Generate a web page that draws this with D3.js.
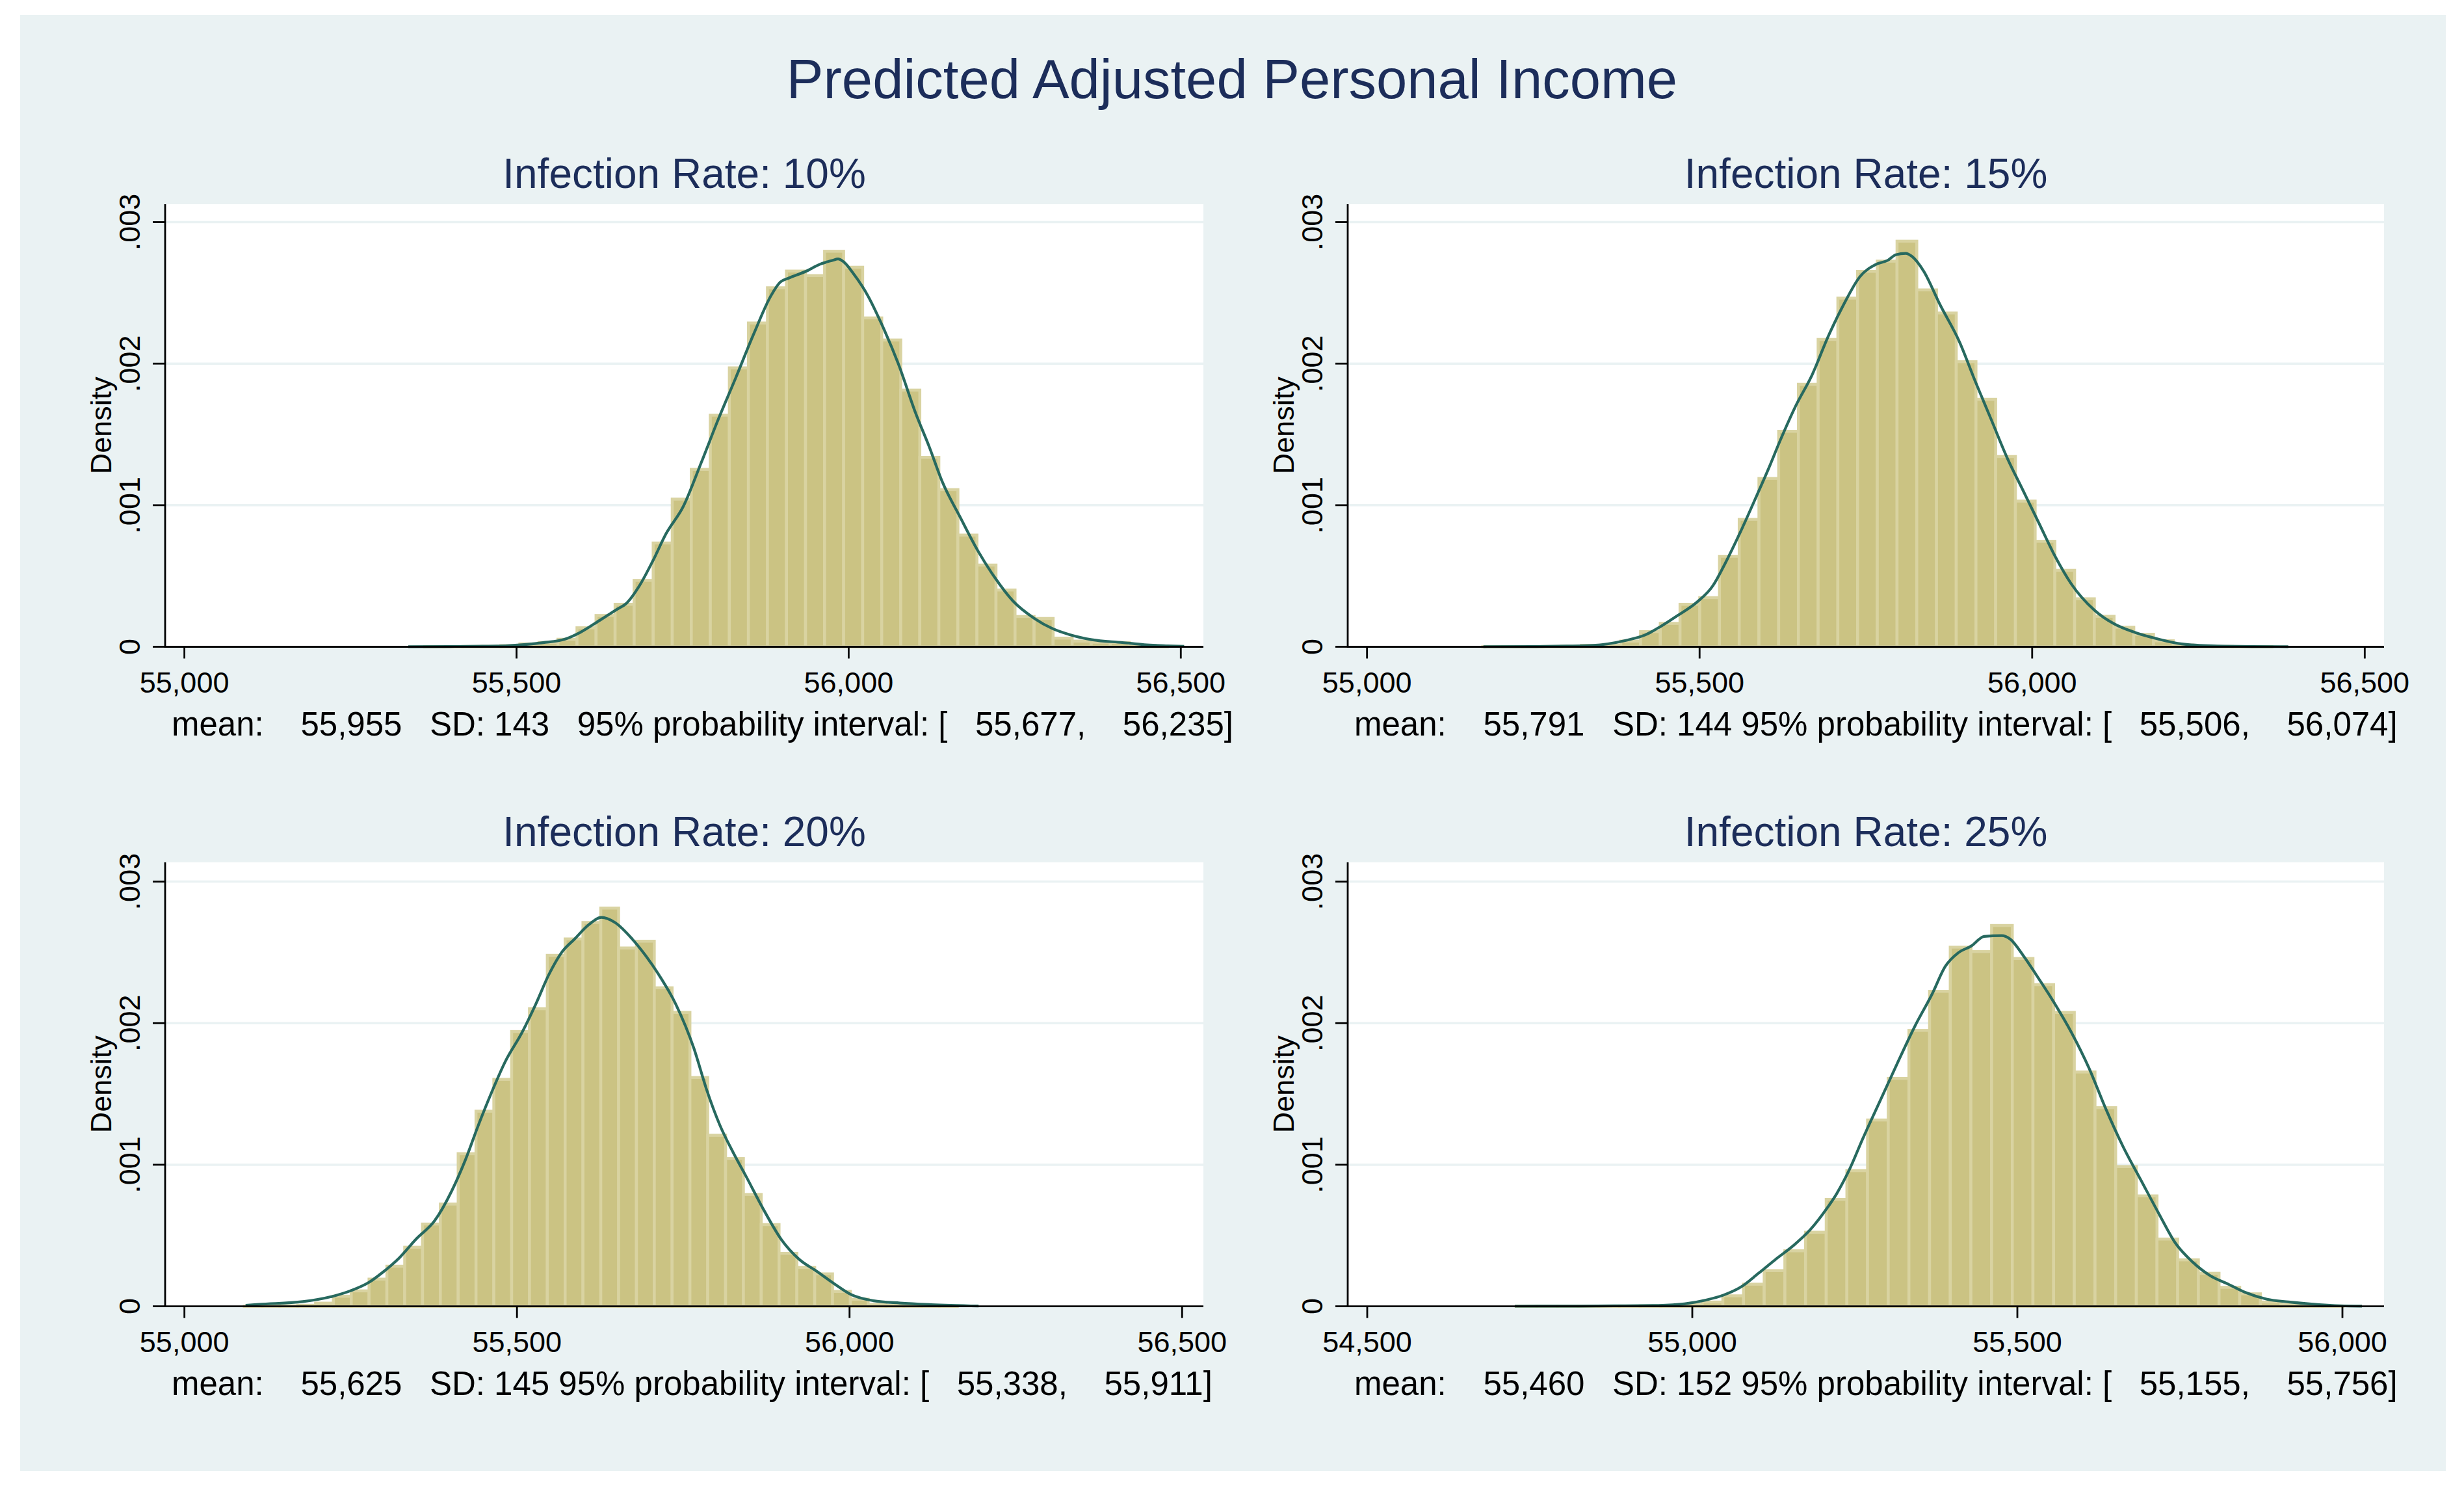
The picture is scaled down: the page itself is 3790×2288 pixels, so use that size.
<!DOCTYPE html>
<html>
<head>
<meta charset="utf-8">
<script src="https://cdn.jsdelivr.net/npm/d3@7"></script>
<style>
  html, body { margin: 0; padding: 0; background: #fff; }
  text { font-family: "Liberation Sans", Arial, Helvetica, sans-serif; }
</style>
</head>
<body>
<svg id="chart"></svg>
<script>
const size = {w: 3790, h: 2288};

//DATA
const mainTitle = 'Predicted Adjusted Personal Income';
const panelTitles = ['Infection Rate: 10%', 'Infection Rate: 15%', 'Infection Rate: 20%', 'Infection Rate: 25%'];
const notes = [
    'mean:    55,955   SD: 143   95% probability interval: [   55,677,    56,235]',
    'mean:    55,791   SD: 144 95% probability interval: [   55,506,    56,074]',
    'mean:    55,625   SD: 145 95% probability interval: [   55,338,    55,911]',
    'mean:    55,460   SD: 152 95% probability interval: [   55,155,    55,756]'
];
const yTicks = [0, 0.001, 0.002, 0.003];
const yTickLabels = ['0', '.001', '.002', '.003'];
const xTicks = [
    [55000, 55500, 56000, 56500],
    [55000, 55500, 56000, 56500],
    [55000, 55500, 56000, 56500],
    [54500, 55000, 55500, 56000]
];
// x range shown by each plot region
const xExtent = [[54971, 56534], [54971, 56529], [54971, 56532], [54470, 56064]];

// histogram bins: first edge and width, 40 bins each
const binStart = [55333, 55174, 55090, 54729];
const binWidth = [28.67, 29.66, 26.8, 31.8];

const dens10 = [0.0000000, 0.0000005, 0.000001, 0.000002, 0.000003, 0.000008, 0.000020, 0.000030,
    0.000053, 0.000134, 0.000221, 0.000300, 0.000469, 0.000733, 0.001043, 0.001253,
    0.001636, 0.001970, 0.002287, 0.002536, 0.002654, 0.002622, 0.002794, 0.002681,
    0.002323, 0.002167, 0.001813, 0.001338, 0.001110, 0.000789, 0.000577, 0.000401,
    0.000214, 0.000200, 0.000061, 0.000040, 0.000032, 0.000030, 0.000004, 0.000002];
const dens15 = [0.0000002, 0.0000005, 0.000001, 0.000002, 0.000004, 0.000010, 0.000012, 0.000040,
    0.000107, 0.000165, 0.000300, 0.000347, 0.000639, 0.000900, 0.001189, 0.001522,
    0.001854, 0.002171, 0.002463, 0.002652, 0.002724, 0.002865, 0.002521, 0.002358,
    0.002014, 0.001748, 0.001344, 0.001029, 0.000745, 0.000540, 0.000339, 0.000215,
    0.000138, 0.000088, 0.000042, 0.000012, 0.000005, 0.000002, 0.000001, 0.0000005];
const dens20 = [0.0000005, 0.000001, 0.000003, 0.000007, 0.000022, 0.000071, 0.000109, 0.000192,
    0.000283, 0.000417, 0.000581, 0.000722, 0.001078, 0.001378, 0.001603, 0.001941,
    0.002102, 0.002479, 0.002595, 0.002711, 0.002813, 0.002531, 0.002579, 0.002250,
    0.002076, 0.001616, 0.001208, 0.001044, 0.000790, 0.000577, 0.000374, 0.000274,
    0.000229, 0.000105, 0.000050, 0.000012, 0.000006, 0.000003, 0.000001, 0.0000005];
const dens25 = [0.0000002, 0.0000003, 0.0000005, 0.000001, 0.000001, 0.000002, 0.000003, 0.000005,
    0.000012, 0.000030, 0.000074, 0.000156, 0.000252, 0.000392, 0.000523, 0.000755,
    0.000958, 0.001316, 0.001610, 0.001949, 0.002225, 0.002537, 0.002506, 0.002690,
    0.002457, 0.002272, 0.002076, 0.001655, 0.001403, 0.000987, 0.000780, 0.000475,
    0.000328, 0.000233, 0.000134, 0.000088, 0.000030, 0.000012, 0.000004, 0.000002];

// kernel density line
const kdX10 = [55337, 55400, 55450, 55487, 55540, 55573, 55596, 55626, 55652, 55665, 55685, 55705,
    55725, 55751, 55778, 55804, 55830, 55857, 55883, 55897, 55910, 55936, 55956, 55976, 55984,
    55992, 56009, 56029, 56049, 56075, 56101, 56121, 56141, 56168, 56194, 56220, 56247, 56280,
    56306, 56333, 56366, 56412, 56445, 56480, 56505];
const kdY10 = [0.000001, 0.000002, 0.000004, 0.000008, 0.000029, 0.000054, 0.000102, 0.000189,
    0.000267, 0.000305, 0.000431, 0.000605, 0.000798, 0.000991, 0.001300, 0.001610, 0.001900,
    0.002209, 0.002480, 0.002576, 0.002605, 0.002653, 0.002701, 0.002730, 0.002740, 0.002721,
    0.002624, 0.002479, 0.002286, 0.001996, 0.001648, 0.001416, 0.001165, 0.000914, 0.000682,
    0.000489, 0.000325, 0.000199, 0.000130, 0.000085, 0.000050, 0.000030, 0.000015, 0.000007,
    0.000003];
const kdX15 = [55175, 55250, 55300, 55340, 55388, 55418, 55442, 55466, 55496, 55520, 55538, 55562,
    55586, 55604, 55621, 55645, 55669, 55693, 55717, 55741, 55765, 55783, 55795, 55810, 55819,
    55837, 55861, 55891, 55914, 55938, 55962, 55986, 56010, 56034, 56058, 56094, 56124, 56154,
    56190, 56225, 56273, 56330, 56385];
const kdY15 = [0.000001, 0.000002, 0.000005, 0.000010, 0.000044, 0.000083, 0.000145, 0.000218,
    0.000315, 0.000431, 0.000585, 0.000817, 0.001069, 0.001262, 0.001455, 0.001706, 0.001919,
    0.002189, 0.002421, 0.002614, 0.002701, 0.002730, 0.002769, 0.002779, 0.002759, 0.002653,
    0.002421, 0.002151, 0.001880, 0.001610, 0.001339, 0.001107, 0.000875, 0.000643, 0.000450,
    0.000257, 0.000160, 0.000102, 0.000054, 0.000020, 0.000006, 0.000002, 0.000001];
const kdX20 = [55092, 55112, 55178, 55224, 55250, 55277, 55297, 55323, 55349, 55376, 55402, 55422,
    55442, 55462, 55482, 55508, 55528, 55548, 55567, 55587, 55607, 55627, 55647, 55673, 55693,
    55713, 55739, 55766, 55785, 55805, 55825, 55845, 55871, 55898, 55924, 55951, 55977, 56003,
    56036, 56076, 56122, 56194];
const kdY20 = [0.000007, 0.000014, 0.000033, 0.000072, 0.000110, 0.000168, 0.000236, 0.000342,
    0.000478, 0.000603, 0.000816, 0.001029, 0.001280, 0.001513, 0.001725, 0.001938, 0.002132,
    0.002344, 0.002499, 0.002596, 0.002692, 0.002747, 0.002712, 0.002596, 0.002480, 0.002344,
    0.002132, 0.001822, 0.001532, 0.001280, 0.001087, 0.000913, 0.000681, 0.000468, 0.000333,
    0.000246, 0.000159, 0.000081, 0.000039, 0.000023, 0.000012, 0.000002];
const kdX25 = [54727, 54800, 54880, 54948, 54988, 55021, 55048, 55075, 55102, 55128, 55155, 55182,
    55202, 55222, 55242, 55262, 55289, 55316, 55342, 55369, 55389, 55409, 55429, 55449, 55476,
    55489, 55509, 55529, 55556, 55583, 55610, 55636, 55663, 55690, 55717, 55743, 55770, 55797,
    55824, 55850, 55884, 55917, 55964, 55996, 56030];
const kdY25 = [0.0000005, 0.000001, 0.000003, 0.000006, 0.000017, 0.000044, 0.000079, 0.000137,
    0.000234, 0.000331, 0.000427, 0.000544, 0.000660, 0.000795, 0.000969, 0.001182, 0.001453,
    0.001723, 0.001975, 0.002207, 0.002400, 0.002497, 0.002545, 0.002613, 0.002619, 0.002594,
    0.002478, 0.002342, 0.002149, 0.001936, 0.001685, 0.001395, 0.001124, 0.000892, 0.000660,
    0.000447, 0.000311, 0.000215, 0.000157, 0.000099, 0.000050, 0.000031, 0.000012, 0.000004,
    0.000001];

const densities = [dens10, dens15, dens20, dens25];
const kdXs = [kdX10, kdX15, kdX20, kdX25];
const kdYs = [kdY10, kdY15, kdY20, kdY25];

//LAYOUT
const colLeft = [254, 2073], colRight = [1851, 3667];
const rowTop = [314, 1326], rowBottom = [994.5, 2008.6];
const tickSpan = 653; // pixels from 0 to .003

const colors = {
    bg: '#eaf2f3',
    title: '#1c2d5a',
    fill: '#cbc383',
    edge: '#d9d3a1',
    line: '#27695f',
    grid: '#eaf2f3'
};

const svg = d3.select('svg#chart')
    .attr('width', size.w)
    .attr('height', size.h)
    .attr('viewBox', `0 0 ${size.w} ${size.h}`);

svg.append('rect')
    .attr('width', size.w).attr('height', size.h)
    .attr('fill', '#fff');

svg.append('rect')
    .attr('x', 31).attr('y', 23)
    .attr('width', 3731).attr('height', 2239)
    .attr('fill', colors.bg);

svg.append('text')
    .attr('x', size.w / 2)
    .attr('y', 151)
    .attr('text-anchor', 'middle')
    .attr('fill', colors.title)
    .style('font-size', '85px')
    .text(mainTitle);

panelTitles.forEach((t, i) => drawPanel(i));

//--------FUNCTIONS--------
function drawPanel(p) {
    const col = p % 2, row = Math.floor(p / 2);
    const l = colLeft[col], r = colRight[col];
    const t = rowTop[row], b = rowBottom[row];

    const x = d3.scaleLinear().domain(xExtent[p]).range([l, r]);
    const y = d3.scaleLinear().domain([0, 0.003]).range([b, b - tickSpan]);

    const g = svg.append('g').classed('panel', true);

    // plot region
    g.append('rect')
        .attr('x', l).attr('y', t)
        .attr('width', r - l).attr('height', b - t)
        .attr('fill', '#fff');

    // gridlines
    g.append('g')
        .selectAll('line')
        .data(yTicks.filter(d => d > 0))
        .join('line')
        .attr('x1', l).attr('x2', r)
        .attr('y1', d => y(d)).attr('y2', d => y(d))
        .attr('stroke', colors.grid)
        .attr('stroke-width', 3.5);

    // histogram bars
    const bins = densities[p].map((d, i) => ({
        x0: binStart[p] + i * binWidth[p],
        x1: binStart[p] + (i + 1) * binWidth[p],
        d: d
    }));
    g.append('g')
        .selectAll('rect')
        .data(bins)
        .join('rect')
        .attr('x', d => x(d.x0))
        .attr('y', d => y(d.d))
        .attr('width', d => x(d.x1) - x(d.x0))
        .attr('height', d => y(0) - y(d.d))
        .attr('fill', colors.fill)
        .attr('stroke', colors.edge)
        .attr('stroke-width', 4.5);

    // kernel density
    const pts = kdXs[p].map((v, i) => [v, kdYs[p][i]]);
    const line = d3.line()
        .x(d => x(d[0]))
        .y(d => y(d[1]))
        .curve(d3.curveMonotoneX);
    g.append('path')
        .attr('d', line(pts))
        .attr('fill', 'none')
        .attr('stroke', colors.line)
        .attr('stroke-width', 4.2)
        .attr('stroke-linejoin', 'round');

    // axes
    const axisG = g.append('g')
        .attr('stroke', '#000')
        .attr('stroke-width', 2.8);
    axisG.append('line')
        .attr('x1', l).attr('x2', l).attr('y1', t).attr('y2', b);
    axisG.append('line')
        .attr('x1', l - 1.4).attr('x2', r).attr('y1', b).attr('y2', b);
    axisG.selectAll('line.yt')
        .data(yTicks)
        .join('line')
        .classed('yt', true)
        .attr('x1', l - 19).attr('x2', l)
        .attr('y1', d => y(d)).attr('y2', d => y(d));
    axisG.selectAll('line.xt')
        .data(xTicks[p])
        .join('line')
        .classed('xt', true)
        .attr('x1', d => x(d)).attr('x2', d => x(d))
        .attr('y1', b).attr('y2', b + 18);

    // tick labels
    g.append('g')
        .selectAll('text')
        .data(xTicks[p])
        .join('text')
        .attr('x', d => x(d))
        .attr('y', b + 70)
        .attr('text-anchor', 'middle')
        .style('font-size', '45px')
        .text(d => d3.format(',')(d));

    g.append('g')
        .selectAll('text')
        .data(yTicks)
        .join('text')
        .attr('transform', d => `translate(${l - 39}, ${y(d)}) rotate(-90)`)
        .attr('text-anchor', 'middle')
        .style('font-size', '45px')
        .text((d, i) => yTickLabels[i]);

    g.append('text')
        .attr('transform', `translate(${l - 83}, ${(t + b) / 2}) rotate(-90)`)
        .attr('text-anchor', 'middle')
        .style('font-size', '45px')
        .text('Density');

    // titles and notes
    g.append('text')
        .attr('x', (l + r) / 2)
        .attr('y', t - 25)
        .attr('text-anchor', 'middle')
        .attr('fill', colors.title)
        .style('font-size', '64px')
        .text(panelTitles[p]);

    g.append('text')
        .attr('x', l + 10)
        .attr('y', b + 136)
        .style('font-size', '51px')
        .style('white-space', 'pre')
        .text(notes[p]);
}
</script>
</body>
</html>
